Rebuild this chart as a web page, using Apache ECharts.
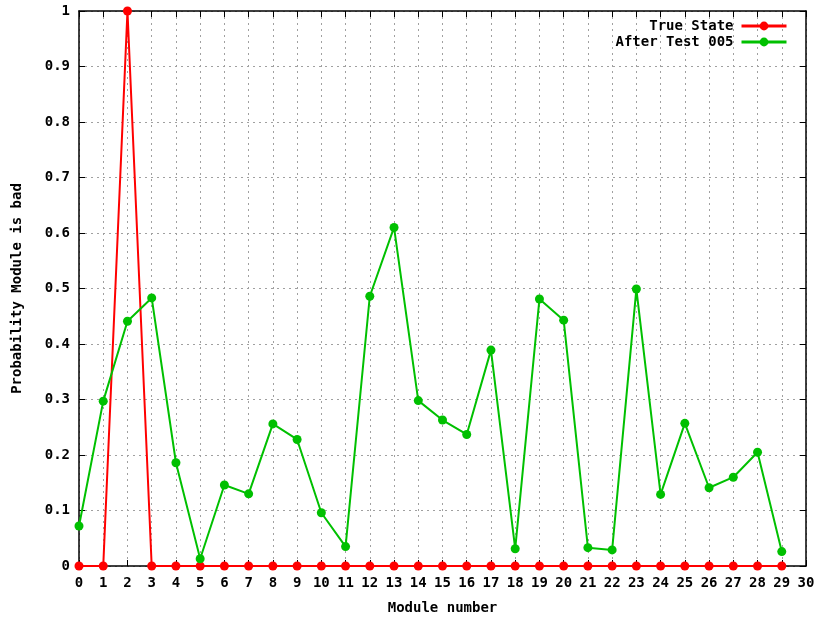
<!DOCTYPE html>
<html>
<head>
<meta charset="utf-8">
<script src="https://cdn.jsdelivr.net/npm/echarts@6/dist/echarts.min.js"></script>
<style>html,body{margin:0;padding:0;background:#fff}#c{width:822px;height:621px}</style>
</head>
<body>
<div id="c"></div>
<script>
const modules = [0,1,2,3,4,5,6,7,8,9,10,11,12,13,14,15,16,17,18,19,20,21,22,23,24,25,26,27,28,29];
const trueState = [0,0,1,0,0,0,0,0,0,0,0,0,0,0,0,0,0,0,0,0,0,0,0,0,0,0,0,0,0,0];
const afterTest = [0.072,0.297,0.441,0.483,0.186,0.013,0.146,0.130,0.256,0.228,0.096,0.035,0.486,0.610,0.298,0.263,0.237,0.389,0.031,0.481,0.443,0.033,0.029,0.499,0.129,0.257,0.141,0.160,0.205,0.026];
const seriesNames = ['True State','After Test 005'];

const font = 'DejaVu Sans Mono';
const chart = echarts.init(document.getElementById('c'));
const pairs = arr => modules.map((m,i)=>[m, arr[i]]);
const gridLine = {show:true, lineStyle:{color:'#a0a0a0', type:[2,4], width:1}};
const txt = {fontFamily:font, fontWeight:'bold', fontSize:14, color:'#000'};
const frameLine = {show:true, onZero:false, lineStyle:{color:'#000', width:1.5}};
const tick = {show:true, inside:true, length:6, lineStyle:{color:'#000'}};
chart.setOption({
  animation:false,
  backgroundColor:'#fff',
  grid:{left:79, right:16, top:11, bottom:55, outerBoundsMode:'none', containLabel:false},
  legend:{
    orient:'vertical', right:29, top:14, align:'right',
    itemWidth:45, itemHeight:11, itemGap:2,
    lineStyle:{width:3},
    textStyle:Object.assign({padding:[0,3,0,0]}, txt),
    data:seriesNames
  },
  xAxis:[{
    type:'value', min:0, max:30, interval:1,
    name:'Module number', nameLocation:'middle', nameGap:35,
    nameTextStyle:txt,
    axisLine:frameLine, axisTick:tick,
    axisLabel:Object.assign({margin:10}, txt),
    splitLine:gridLine
  },{
    type:'value', min:0, max:30, interval:1, position:'top',
    axisLine:frameLine, axisTick:tick,
    axisLabel:{show:false}, splitLine:{show:false}
  }],
  yAxis:[{
    type:'value', min:0, max:1, interval:0.1,
    name:'Probability Module is bad', nameLocation:'middle', nameGap:55,
    nameTextStyle:txt,
    axisLine:frameLine, axisTick:tick,
    axisLabel:Object.assign({margin:9}, txt),
    splitLine:gridLine
  },{
    type:'value', min:0, max:1, interval:0.1, position:'right',
    axisLine:frameLine, axisTick:tick,
    axisLabel:{show:false}, splitLine:{show:false}
  }],
  series:[{
    name:seriesNames[0], type:'line', data:pairs(trueState),
    symbol:'circle', symbolSize:9, clip:false,
    lineStyle:{color:'#ff0000', width:2}, itemStyle:{color:'#ff0000'}
  },{
    name:seriesNames[1], type:'line', data:pairs(afterTest),
    symbol:'circle', symbolSize:9, clip:false,
    lineStyle:{color:'#00c000', width:2}, itemStyle:{color:'#00c000'}
  }]
});
</script>
</body>
</html>
